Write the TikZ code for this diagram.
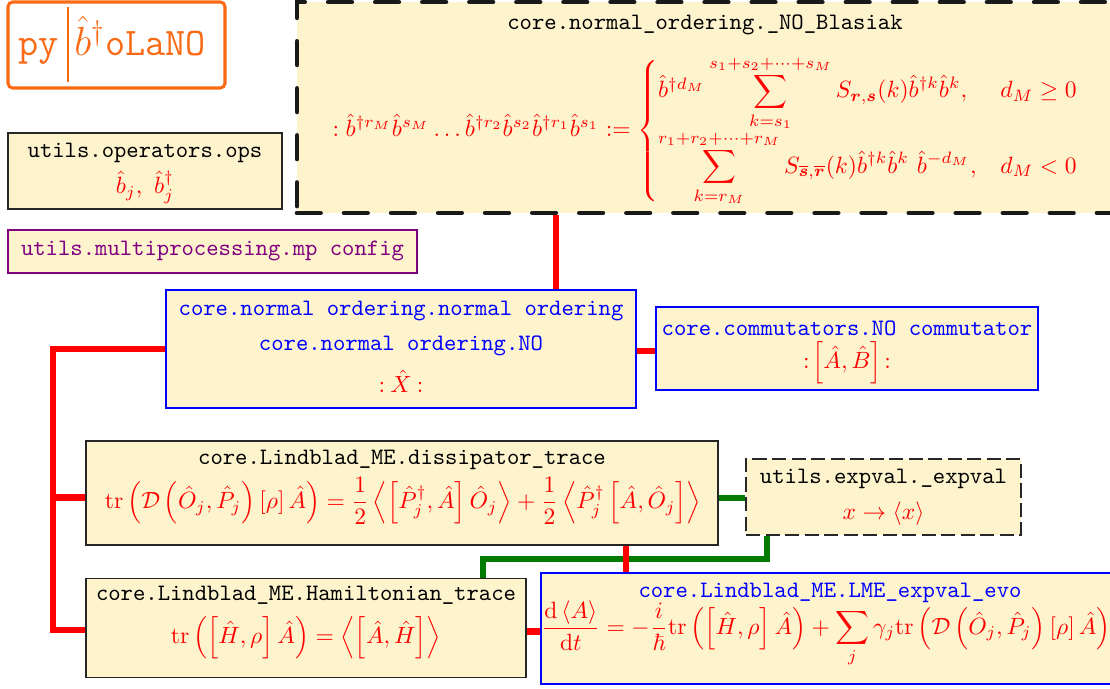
\documentclass[tikz,border=0pt]{standalone}
\usepackage{amsmath,amssymb}
\usetikzlibrary{backgrounds}
\definecolor{cream}{RGB}{253,243,205}
\definecolor{logoorange}{RGB}{250,105,20}
\definecolor{mpurple}{RGB}{128,0,128}
\definecolor{dgreen}{RGB}{0,122,0}
\tikzset{
  wh/.style 2 args={minimum width=#1*0.425pt, minimum height=#2*0.425pt},
  box/.style={rectangle, fill=cream, inner sep=0pt},
  solidbox/.style={box, draw=black!85, line width=0.8pt},
  bluebox/.style={box, draw=blue, line width=0.7pt},
  purplebox/.style={box, draw=mpurple, line width=0.7pt},
  dashbox/.style={box, draw=black!85, line width=0.9pt, dash pattern=on 6pt off 2.3pt},
  bigdashbox/.style={box, draw=black!90, line width=2pt, dash pattern=on 10pt off 10pt, line cap=round},
  ttlabel/.style={font=\ttfamily, inner sep=0pt},
  mathlabel/.style={text=red, inner sep=0pt},
  redline/.style={draw=red, line width=2.8pt},
  greenline/.style={draw=dgreen, line width=2.6pt},
  logotext/.style={anchor=base west, inner sep=0pt, text=logoorange, font=\fontsize{16.6}{20}\selectfont},
}
\begin{document}
\begin{tikzpicture}[x=0.425pt,y=-0.425pt]
\useasboundingbox (0,0) rectangle (1110,688);

% logo
\node[draw=logoorange, line width=1.3pt, rounded corners=2pt, inner sep=0pt, wh={217}{86}] (logo) at (116.5,45) {};
\node[logotext] (py) at (18,55) {\ttfamily py};
\draw[logoorange, line width=0.6pt] (68,7) -- (68,82);
\node[logotext] (bdag) at (74,55) {$\hat b^\dagger$\texttt{oLaNO}};

% boxes
\node[solidbox, wh={274}{76}] (ops) at (145,171) {};
\node[ttlabel] (opst) at (145,153) {utils.operators.ops};
\node[mathlabel] (opsm) at (145,187) {$\hat b_j,\ \hat b_j^{\dagger}$};

\node[purplebox, wh={409}{43}] (mp) at (212.5,251.5) {};
\node[ttlabel, text=mpurple] (mpt) at (212.5,251) {utils.multiprocessing.mp config};

\node[bigdashbox, wh={816}{211}] (blas) at (705,107.5) {};
\node[ttlabel] (blast) at (705,25) {core.normal\_ordering.\_NO\_Blasiak};
\node[mathlabel] (blasm) at (706,131) {$\displaystyle :\hat b^{\dagger r_M}\hat b^{s_M}\ldots\hat b^{\dagger r_2}\hat b^{s_2}\hat b^{\dagger r_1}\hat b^{s_1} :=
\begin{cases}
\hat b^{\dagger d_M}\displaystyle\sum_{k=s_1}^{s_1+s_2+\cdots+s_M} S_{\boldsymbol r,\boldsymbol s}(k)\hat b^{\dagger k}\hat b^{k}, & d_M\ge 0\\
\displaystyle\sum_{k=r_M}^{r_1+r_2+\cdots+r_M} S_{\overline{\boldsymbol s},\overline{\boldsymbol r}}(k)\hat b^{\dagger k}\hat b^{k}\ \hat b^{-d_M}, & d_M<0
\end{cases}$};

\node[bluebox, wh={470}{118}] (no) at (401,349) {};
\node[ttlabel, text=blue] (not1) at (401,311) {core.normal ordering.normal ordering};
\node[ttlabel, text=blue] (not2) at (401,346) {core.normal ordering.NO};
\node[mathlabel] (nom) at (401,381) {${:}\mkern4mu\hat X\mkern4mu{:}$};

\node[bluebox, wh={382}{83}] (comm) at (847,348.5) {};
\node[ttlabel, text=blue] (commt) at (847,328) {core.commutators.NO commutator};
\node[mathlabel] (commm) at (847,363) {$:\!\left[\hat A,\hat B\right]\!:$};

\node[solidbox, wh={632}{104}] (diss) at (402,493) {};
\node[ttlabel] (disst) at (402,460) {core.Lindblad\_ME.dissipator\_trace};
\node[mathlabel] (dissm) at (403,501) {$\displaystyle \mathrm{tr}\left(\mathcal{D}\left(\hat O_j,\hat P_j\right)[\rho]\,\hat A\right)=\frac{1}{2}\left\langle\left[\hat P_j^{\dagger},\hat A\right]\hat O_j\right\rangle+\frac{1}{2}\left\langle\hat P_j^{\dagger}\left[\hat A,\hat O_j\right]\right\rangle$};

\node[dashbox, wh={275}{76}] (expv) at (883.5,497) {};
\node[ttlabel] (expvt) at (883.5,479) {utils.expval.\_expval};
\node[mathlabel] (expvm) at (883.5,514) {$x\to\langle x\rangle$};

\node[solidbox, wh={440}{99}] (ham) at (306,628) {};
\node[ttlabel] (hamt) at (306,595) {core.Lindblad\_ME.Hamiltonian\_trace};
\node[mathlabel] (hamm) at (306,638) {$\mathrm{tr}\left(\left[\hat H,\rho\right]\hat A\right)=\left\langle\left[\hat A,\hat H\right]\right\rangle$};

\node[bluebox, wh={578}{111}] (lme) at (830,628.5) {};
\node[ttlabel, text=blue] (lmet) at (830,593) {core.Lindblad\_ME.LME\_expval\_evo};
\node[mathlabel] (lmem) at (826,634) {$\displaystyle \frac{\mathrm{d}\left\langle A\right\rangle}{\mathrm{d}t}=-\frac{i}{\hbar}\mathrm{tr}\left(\left[\hat H,\rho\right]\hat A\right)+\sum_j\gamma_j\mathrm{tr}\left(\mathcal{D}\left(\hat O_j,\hat P_j\right)[\rho]\,\hat A\right)$};

% connector helper coordinates
\coordinate (cb) at (556,0);
\coordinate (lx) at (53,0);
\coordinate (cd) at (626,0);
\coordinate (g1) at (767,559);
\coordinate (g2) at (483,559);

\begin{scope}[on background layer]
\fill[white] (0,0) rectangle (1110,688);
\draw[greenline] ([yshift=-2pt]diss.east) -- ([yshift=-2pt]diss.east -| expv.west);
\draw[greenline] (expv.south -| g1) -- (g1) -- (g2) -- (ham.north -| g2);
\draw[redline] (blas.south -| cb) -- (no.north -| cb);
\draw[redline] ([yshift=-0.8pt]no.east) -- ([yshift=-0.8pt]no.east -| comm.west);
\draw[redline] (no.west) -| ([yshift=-0.8pt]lx |- ham.west) -- ([yshift=-0.8pt]ham.west);
\draw[redline] ([yshift=-2pt]lx |- diss.west) -- ([yshift=-2pt]diss.west);
\draw[redline] (diss.south -| cd) -- (lme.north -| cd);
\draw[redline] ([yshift=-1.5pt]ham.east) -- ([yshift=-1.5pt]ham.east -| lme.west);
\end{scope}
\end{tikzpicture}
\end{document}
